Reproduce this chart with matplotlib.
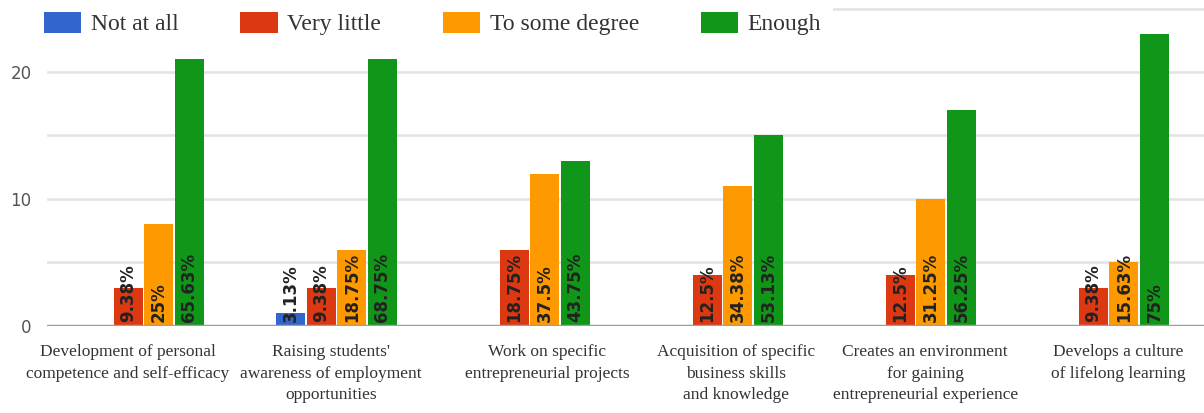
# Grouped bar chart: level of agreement per statement
import matplotlib.pyplot as plt
import numpy as np
from matplotlib.patches import Patch

categories = [
    "Development of personal\ncompetence and self-efficacy",
    "Raising students'\nawareness of employment\nopportunities",
    "Work on specific\nentrepreneurial projects",
    "Acquisition of specific\nbusiness skills\nand knowledge",
    "Creates an environment\nfor gaining\nentrepreneurial experience",
    "Develops a culture\nof lifelong learning",
]
series_names = ["Not at all", "Very little", "To some degree", "Enough"]

not_at_all = [0, 1, 0, 0, 0, 0]
very_little = [3, 3, 6, 4, 4, 3]
some_degree = [8, 6, 12, 11, 10, 5]
enough = [21, 21, 13, 15, 17, 23]

labels_not = ["", "3.13%", "", "", "", ""]
labels_little = ["9.38%", "9.38%", "18.75%", "12.5%", "12.5%", "9.38%"]
labels_some = ["25%", "18.75%", "37.5%", "34.38%", "31.25%", "15.63%"]
labels_enough = ["65.63%", "68.75%", "43.75%", "53.13%", "56.25%", "75%"]

colors = ["#3366cc", "#dc3912", "#ff9900", "#109618"]

series = [not_at_all, very_little, some_degree, enough]
series_labels = [labels_not, labels_little, labels_some, labels_enough]

# the category captions are not quite centred under their groups
label_shift = [-0.08, -0.03, 0.09, 0.07, 0.05, 0.05]

fig = plt.figure(figsize=(12.04, 4.13), dpi=100)
ax = fig.add_axes([0.039, 0.2107, 0.962, 0.7893])

x = np.arange(len(categories))
step = 0.158
width = 0.15

for i in range(4):
    pos = x + (i - 1.5) * step
    ax.bar(pos, series[i], width, color=colors[i], zorder=3)
    # percentage labels sit at the base of each bar, rotated
    for j in range(len(categories)):
        if series_labels[i][j] == "":
            continue
        ax.text(pos[j], 0.3, series_labels[i][j], rotation=90,
                ha="center", va="bottom", fontsize=12,
                fontweight="bold", color="#222222", zorder=4)

ax.set_xlim(-0.5, 5.5)
ax.set_ylim(0, 25.67)
ax.set_yticks([0, 10, 20])
ax.set_yticks([5, 15, 25], minor=True)
ax.grid(axis="y", which="both", color="#e3e3e3", linewidth=1.8, zorder=0)
ax.axhline(0, color="#9e9e9e", linewidth=2.5, zorder=5)
for s in ax.spines.values():
    s.set_visible(False)

ax.set_xticks(x + np.array(label_shift))
ax.set_xticklabels(categories, fontfamily="Liberation Serif", fontsize=12.5,
                   color="#333333", linespacing=1.47)
ax.tick_params(axis="x", length=0, pad=13)
ax.tick_params(axis="y", which="both", length=0, pad=11,
               labelsize=12, labelcolor="#555555")

handles = [Patch(facecolor=c, edgecolor="none") for c in colors]
leg = ax.legend(handles, series_names, loc="upper left",
                bbox_to_anchor=(-0.013, 1.0), ncol=4,
                prop={"family": "Liberation Serif", "size": 17},
                handlelength=1.6, handleheight=1.0, handletextpad=0.4,
                columnspacing=2.6, borderpad=0.5, borderaxespad=0,
                frameon=True, facecolor="white", edgecolor="none",
                framealpha=1, fancybox=False)
for t in leg.get_texts():
    t.set_color("#333333")
leg.set_zorder(10)

fig.savefig("out.png", dpi=100)
